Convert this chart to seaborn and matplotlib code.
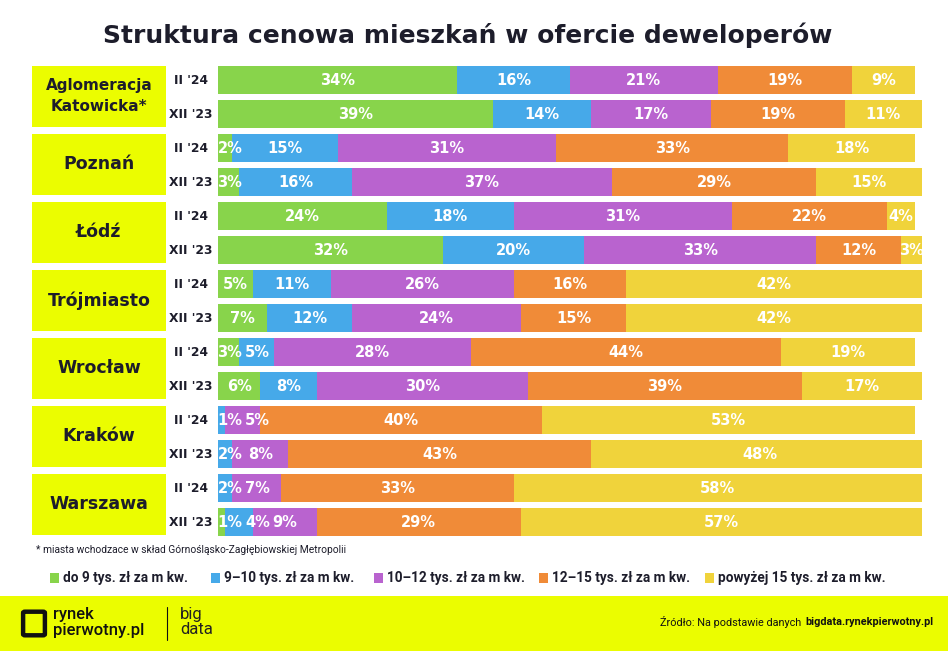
import matplotlib
matplotlib.use("Agg")
import numpy as np
import pandas as pd
import seaborn as sns
import matplotlib.pyplot as plt
import matplotlib.transforms as mtransforms
from matplotlib.patches import Rectangle, FancyBboxPatch

# ---------------- data ----------------
cities = ["Aglomeracja\nKatowicka*", "Poznań", "Łódź", "Trójmiasto", "Wrocław", "Kraków", "Warszawa"]
periods = ["II '24", "XII '23"]
categories = ["do 9 tys. zł za m kw.", "9–10 tys. zł za m kw.", "10–12 tys. zł za m kw.",
              "12–15 tys. zł za m kw.", "powyżej 15 tys. zł za m kw."]
# order of rows: city1 II'24, city1 XII'23, city2 II'24, ...
share_do9 = [34, 39, 2, 3, 24, 32, 5, 7, 3, 6, 0, 0, 0, 1]
share_9_10 = [16, 14, 15, 16, 18, 20, 11, 12, 5, 8, 1, 2, 2, 4]
share_10_12 = [21, 17, 31, 37, 31, 33, 26, 24, 28, 30, 5, 8, 7, 9]
share_12_15 = [19, 19, 33, 29, 22, 12, 16, 15, 44, 39, 40, 43, 33, 29]
share_15p = [9, 11, 18, 15, 4, 3, 42, 42, 19, 17, 53, 48, 58, 57]

colors = ["#88d44b", "#46a9e9", "#b963cf", "#f08b38", "#f0d33b"]
lime = "#ebfd00"
dark = "#1d1d2b"

series = [share_do9, share_9_10, share_10_12, share_12_15, share_15p]
rows = [f"{c}|{p}" for c in cities for p in periods]
df = pd.DataFrame({"row": rows})
for k, s in enumerate(series):
    df[f"v{k}"] = s
vals = df[[f"v{k}" for k in range(5)]].to_numpy()
cum = np.cumsum(vals, axis=1)
for k in range(5):
    df[f"cum{k}"] = cum[:, k]

# ---------------- figure ----------------
sns.set_theme(style="white")
plt.rcParams["font.family"] = ["DejaVu Sans"]
W, H = 948, 651
fig = plt.figure(figsize=(W / 100, H / 100), dpi=100)
fig.patch.set_facecolor("white")

ax_left, ax_right = 218, 922
ax_top, ax_bot = 63, 539
ax = fig.add_axes([ax_left / W, 1 - ax_bot / H, (ax_right - ax_left) / W, (ax_bot - ax_top) / H])

for k in range(4, -1, -1):
    sns.barplot(data=df, x=f"cum{k}", y="row", order=rows, orient="h", color=colors[k],
                saturation=1, width=0.82, errorbar=None, ax=ax, linewidth=0)

ax.set_xlim(0, 100)
ax.set_ylim(len(rows) - 0.5, -0.5)
ax.axis("off")

# segment labels
for i in range(len(rows)):
    prev_x = -10
    for k in range(5):
        v = vals[i, k]
        if v <= 0:
            continue
        start = cum[i, k] - v
        mid = start + v / 2
        x = max(mid, prev_x + 3.9, 1.7)
        ax.text(x, i, f"{v}%", ha="center", va="center", color="white",
                fontsize=10.5, fontweight="bold")
        prev_x = x

# period labels and city boxes
blend = mtransforms.blended_transform_factory(fig.transFigure, ax.transData)
for i, r in enumerate(rows):
    ax.text(191 / W, i, r.split("|")[1], transform=blend, ha="center", va="center",
            fontsize=8.8, fontweight="bold", color=dark)

for g, c in enumerate(cities):
    y0 = 2 * g - 0.41
    y1 = 2 * g + 1 + 0.38
    box = Rectangle((32 / W, y0), (166 - 32) / W, y1 - y0, transform=blend,
                    facecolor=lime, edgecolor="none", clip_on=False, zorder=0)
    ax.add_patch(box)
    fs = 11 if "\n" in c else 12.5
    ax.text(99 / W, 2 * g + 0.48, c, transform=blend, ha="center", va="center",
            fontsize=fs, fontweight="bold", color=dark, linespacing=1.5)

# title
fig.text(468 / W, 1 - 35 / H, "Struktura cenowa mieszkań w ofercie deweloperów",
         ha="center", va="center", fontsize=18, fontweight="bold", color=dark)

# footnote
fig.text(36 / W, 1 - 550 / H, "* miasta wchodzace w skład Górnośląsko-Zagłębiowskiej Metropolii",
         ha="left", va="center", fontsize=7.4, color=dark, family="Roboto")

# legend
leg_x = [50, 211, 374, 539, 705]
for k, lab in enumerate(categories):
    fig.patches.append(Rectangle((leg_x[k] / W, 1 - 583 / H), 9 / W, 10 / H,
                                 transform=fig.transFigure, facecolor=colors[k],
                                 edgecolor="none"))
    fig.text((leg_x[k] + 13) / W, 1 - 578 / H, lab, ha="left", va="center",
             fontsize=9.8, fontweight="bold", color=dark, family="Roboto")

# footer band
fig.patches.append(Rectangle((0, 0), 1, (H - 596) / H, transform=fig.transFigure,
                             facecolor=lime, edgecolor="none", zorder=0))
# logo icon
fig.patches.append(FancyBboxPatch((25 / W, 1 - 634 / H), 18 / W, 21 / H,
                                  boxstyle="round,pad=0.002", transform=fig.transFigure,
                                  facecolor="none", edgecolor="#111111", linewidth=3.2))
fig.text(53 / W, 1 - 615 / H, "rynek", ha="left", va="center", fontsize=12,
         color="#111111", family="Roboto", fontweight="medium")
fig.text(53 / W, 1 - 630 / H, "pierwotny.pl", ha="left", va="center", fontsize=12,
         color="#111111", family="Roboto", fontweight="medium")
fig.lines.append(plt.Line2D([167 / W, 167 / W], [1 - 607 / H, 1 - 640 / H],
                            transform=fig.transFigure, color="#111111", linewidth=0.8))
fig.text(180 / W, 1 - 614 / H, "big", ha="left", va="center", fontsize=12,
         color="#222222", family="Roboto", fontweight="normal")
fig.text(180 / W, 1 - 630 / H, "data", ha="left", va="center", fontsize=12,
         color="#222222", family="Roboto", fontweight="normal")

# source
t_bold = fig.text(933 / W, 1 - 622 / H, "bigdata.rynekpierwotny.pl", ha="right", va="center",
                  fontsize=7.8, fontweight="bold", color="#111111", family="Roboto")
fig.canvas.draw()
bb = t_bold.get_window_extent(renderer=fig.canvas.get_renderer())
fig.text(bb.x0 / W - 1 / W, 1 - 622 / H, "Źródło: Na podstawie danych ", ha="right", va="center",
         fontsize=7.8, color="#111111", family="Roboto")

fig.savefig("out.png", dpi=100, facecolor="white")
